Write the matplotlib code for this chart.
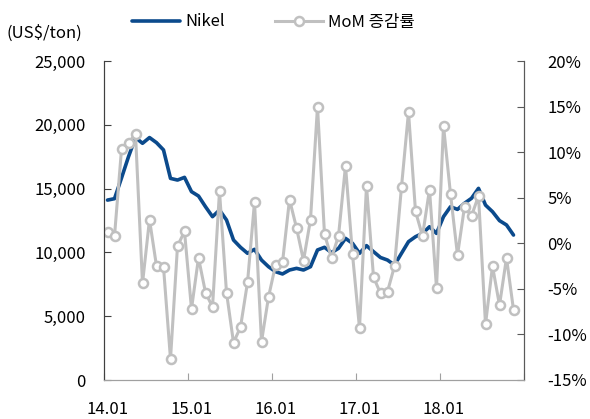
import numpy as np
import matplotlib.pyplot as plt
from matplotlib.ticker import FuncFormatter

plt.rcParams['font.family'] = ['Noto Sans CJK KR', 'DejaVu Sans']

# 14.01 ~ 18.11, monthly
nikel = [14100, 14210, 15830, 17500, 19000, 18550, 19000, 18600, 18030, 15800,
         15670, 15880, 14760, 14420, 13580, 12800, 13320, 12540, 10970, 10400,
         9930, 10240, 9400, 8880, 8490, 8310, 8620, 8750, 8620, 8880,
         10190, 10400, 9980, 10320, 11100, 10710, 9930, 10530, 10060, 9600,
         9400, 9010, 9930, 10840, 11230, 11490, 12010, 11490, 12800, 13580,
         13370, 13850, 14240, 15020, 13710, 13190, 12490, 12150, 11360]
mom = [1.2, 0.8, 10.3, 11.0, 12.0, -4.4, 2.6, -2.5, -2.6, -12.7,
       -0.3, 1.3, -7.2, -1.6, -5.4, -7.0, 5.7, -5.4, -10.9, -9.2,
       -4.3, 4.5, -10.8, -5.9, -2.4, -2.1, 4.8, 1.7, -1.9, 2.6,
       15.0, 1.0, -1.6, 0.8, 8.5, -1.2, -9.3, 6.3, -3.7, -5.5,
       -5.3, -2.5, 6.2, 14.4, 3.5, 0.8, 5.9, -4.9, 12.9, 5.4,
       -1.3, 4.0, 3.0, 5.2, -8.9, -2.5, -6.8, -1.6, -7.3]
year_labels = ['14.01', '15.01', '16.01', '17.01', '18.01']

x = np.arange(len(nikel))

fig = plt.figure(figsize=(5.9, 4.19), dpi=100)
ax = fig.add_axes([104/590, 1-380/419, 420/590, 319/419])
ax2 = ax.twinx()

l1, = ax.plot(x, nikel, color='#0B4A8C', lw=2.6, solid_capstyle='round', label='Nikel')
l2, = ax2.plot(x, mom, color='#C0C0C0', lw=2.2, marker='o', ms=6.5,
               mfc='white', mec='#C0C0C0', mew=1.8, label='MoM 증감률')

ax.set_xlim(-0.5, 59.5)
ax.set_ylim(0, 25000)
ax2.set_ylim(-15, 20)
ax.set_yticks(np.arange(0, 25001, 5000))
ax2.set_yticks(np.arange(-15, 21, 5))
ax.yaxis.set_major_formatter(FuncFormatter(lambda v, p: f'{int(v):,}'))
ax2.yaxis.set_major_formatter(FuncFormatter(lambda v, p: f'{int(v)}%'))

# ticks at year boundaries, labels on first month
ax.set_xticks([12*k - 0.5 for k in range(6)])
ax.set_xticklabels([])
ax.set_xticks([12*k for k in range(5)], minor=True)
ax.set_xticklabels(year_labels, minor=True)
ax.tick_params(axis='x', which='major', direction='in', length=5, color='#A0A0A0')
ax.tick_params(axis='x', which='minor', length=0, pad=15, labelsize=12)

ax.tick_params(axis='y', direction='in', length=5, color='#404040', labelsize=12, pad=13)
ax2.tick_params(axis='y', direction='in', length=5, color='#595959', labelsize=12, pad=17)

for a in (ax, ax2):
    a.spines['top'].set_visible(False)
    a.spines['bottom'].set_color('#A0A0A0')
    a.spines['left'].set_color('#404040')
    a.spines['right'].set_color('#595959')

fig.text(7/590, 1-33/419, '(US$/ton)', fontsize=12, va='center', ha='left')
fig.legend([l1, l2], ['Nikel', 'MoM 증감률'], loc='center left',
           bbox_to_anchor=(132/590, 1-22/419), ncol=2, frameon=False,
           fontsize=12, handlelength=2.9, handletextpad=0.3, columnspacing=3.0,
           borderaxespad=0, borderpad=0)

fig.savefig('out.png', dpi=100)
